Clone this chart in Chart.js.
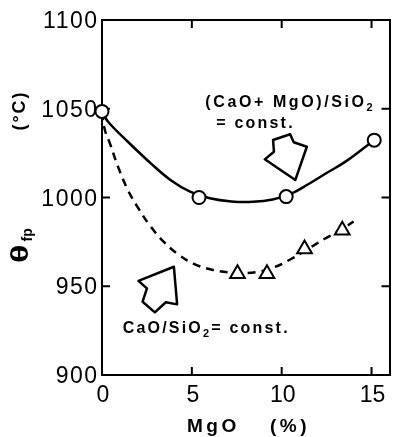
<!DOCTYPE html>
<html>
<head>
<meta charset="utf-8">
<script src="https://cdn.jsdelivr.net/npm/chart.js@4.4.1/dist/chart.umd.min.js"></script>
<style>
  html, body { margin: 0; padding: 0; background: #fff; }
  #wrap { width: 393px; height: 437px; overflow: hidden; }
  #box { width: 400px; height: 437px; position: relative; }
</style>
</head>
<body>
<div id="wrap"><div id="box"><canvas id="chart"></canvas></div></div>
<script>
// measured points: (CaO+MgO)/SiO2 = const. (circles)
const mgoCircle = [0, 5.4, 10.25, 15.15];
const tempCircle = [1048.5, 1000, 1000.5, 1032.3];

// measured points: CaO/SiO2 = const. (triangles)
const mgoTriangle = [7.54, 9.18, 11.27, 13.37];
const tempTriangle = [957, 957, 971, 981.5];

// fitted curves
const solidCurveX = [0, 0.34, 1.44, 2.71, 3.81, 4.9, 6.0, 7.2, 8.4, 9.5, 10.5, 11.5, 12.5, 13.55, 14.74, 15.15];
const solidCurveY = [1048.5, 1042.7, 1031.4, 1019.3, 1009.9, 1003.3, 999.6, 997.8, 997.6, 998.9, 1002, 1007.6, 1013.8, 1020.2, 1029.2, 1032.3];
const dashedCurveX = [0, 0.16, 0.44, 0.89, 1.44, 2.08, 2.71, 3.44, 4.26, 5.08, 6.17, 7.54, 8.6, 9.6, 10.5, 11.4, 12.37, 13.37, 14.0];
const dashedCurveY = [1048, 1038, 1030.5, 1017.4, 1004.2, 993, 983.6, 975, 967.8, 962.8, 959.2, 957.6, 958, 960.8, 965.2, 970.6, 976.6, 982.2, 986.5];

// tick labels
const xTicks = [0, 5, 10, 15];
const yTicks = [900, 950, 1000, 1050, 1100];

const toPts = (xs, ys) => xs.map((v, i) => ({ x: v, y: ys[i] }));

// ---- annotation shapes (hollow arrows), in data units ----
const arrowUpper = [[9.52, 1032.4], [10.47, 1035.6], [10.67, 1031.1], [11.40, 1028.6], [10.76, 1009.9], [9.06, 1021.5], [9.57, 1025.8]];
const arrowLower = [[4.0, 961.0], [2.03, 953.0], [2.50, 948.8], [2.26, 941.3], [2.94, 935.3], [3.55, 941.0], [4.18, 939.8]];

const TICK = 8;
const SANS = '"Liberation Sans", Arial, sans-serif';

const decor = {
  id: 'decor',
  beforeDatasetsDraw(chart) {
    const { ctx, chartArea: a, scales: { x, y } } = chart;
    ctx.save();
    ctx.strokeStyle = '#000';
    ctx.lineWidth = 2;
    ctx.beginPath();
    xTicks.forEach(v => {
      if (v <= 0) return;
      const px = x.getPixelForValue(v);
      ctx.moveTo(px, a.bottom); ctx.lineTo(px, a.bottom - TICK);
      ctx.moveTo(px, a.top); ctx.lineTo(px, a.top + TICK);
    });
    yTicks.forEach(v => {
      if (v <= 900 || v >= 1100) return;
      const py = y.getPixelForValue(v);
      ctx.moveTo(a.left, py); ctx.lineTo(a.left + TICK, py);
      ctx.moveTo(a.right, py); ctx.lineTo(a.right - TICK, py);
    });
    ctx.stroke();
    ctx.restore();
  },
  afterDraw(chart) {
    const { ctx, chartArea: a, scales: { x, y } } = chart;
    ctx.save();
    ctx.fillStyle = '#000';
    ctx.strokeStyle = '#000';

    // tick labels
    ctx.font = '23px ' + SANS;
    ctx.letterSpacing = '1.5px';
    ctx.textAlign = 'right';
    ctx.textBaseline = 'alphabetic';
    yTicks.forEach(v => {
      ctx.fillText(String(v), a.left - 5 + 1.5, y.getPixelForValue(v) + 8);
    });
    ctx.letterSpacing = '0px';
    ctx.textAlign = 'center';
    xTicks.forEach(v => {
      ctx.fillText(String(v), x.getPixelForValue(v) + 1, 402);
    });

    // x title
    ctx.font = 'bold 19px ' + SANS;
    ctx.letterSpacing = '3.5px';
    ctx.textAlign = 'left';
    ctx.fillText('MgO', 187, 432);
    ctx.fillText('(%)', 270, 432);

    // y title, rotated
    ctx.save();
    ctx.translate(19, 111.5);
    ctx.rotate(-Math.PI / 2);
    ctx.font = 'bold 18px ' + SANS;
    ctx.letterSpacing = '2px';
    ctx.textAlign = 'center';
    ctx.fillText('(°C)', 1, 6);
    ctx.restore();

    ctx.save();
    ctx.translate(19, 245.5);
    ctx.rotate(-Math.PI / 2);
    ctx.letterSpacing = '0px';
    ctx.textAlign = 'left';
    ctx.save();
    ctx.translate(-17.5, 8.5);
    ctx.scale(1.55, 1.05);
    ctx.font = 'bold 22px ' + SANS;
    ctx.fillText('θ', 0, 0);
    ctx.restore();
    ctx.font = 'bold 14px ' + SANS;
    ctx.fillText('fp', 4, 13);
    ctx.restore();

    // annotation texts
    const label = (parts, xv, yv) => {
      let px = x.getPixelForValue(xv);
      const py = y.getPixelForValue(yv);
      parts.forEach(([t, sub]) => {
        ctx.font = sub ? 'bold 11px ' + SANS : 'bold 16px ' + SANS;
        ctx.fillText(t, px, py + (sub ? 4 : 0));
        px += ctx.measureText(t).width;
      });
    };
    ctx.textAlign = 'left';
    ctx.letterSpacing = '2.6px';
    label([['(CaO+ MgO)/SiO'], ['2', true]], 5.75, 1051);
    ctx.letterSpacing = '2.2px';
    label([['= const.']], 6.36, 1039.2);
    label([['CaO/SiO'], ['2', true], ['= const.']], 1.15, 923.7);

    // hollow arrows
    ctx.lineWidth = 2.5;
    ctx.lineJoin = 'round';
    [arrowUpper, arrowLower].forEach(poly => {
      ctx.beginPath();
      poly.forEach(([xv, yv], i) => {
        const px = x.getPixelForValue(xv), py = y.getPixelForValue(yv);
        if (i === 0) ctx.moveTo(px, py); else ctx.lineTo(px, py);
      });
      ctx.closePath();
      ctx.stroke();
    });
    ctx.restore();
  }
};

const hiddenTicks = { display: false };
const noGrid = { display: false };
const axisBorder = { display: true, color: '#000', width: 2 };

new Chart(document.getElementById('chart'), {
  type: 'line',
  data: {
    datasets: [
      {
        data: toPts(mgoCircle, tempCircle),
        showLine: false,
        pointStyle: 'circle',
        pointRadius: 6.5,
        pointBorderWidth: 2,
        pointBorderColor: '#000',
        pointBackgroundColor: '#fff',
        clip: false
      },
      {
        data: toPts(mgoTriangle, tempTriangle),
        showLine: false,
        pointStyle: 'triangle',
        pointRadius: 8.5,
        pointBorderWidth: 2,
        pointBorderColor: '#000',
        pointBackgroundColor: '#fff',
        clip: false
      },
      {
        data: toPts(solidCurveX, solidCurveY),
        borderColor: '#000',
        borderWidth: 2.5,
        pointRadius: 0,
        tension: 0.4,
        fill: false,
        clip: false
      },
      {
        data: toPts(dashedCurveX, dashedCurveY),
        borderColor: '#000',
        borderWidth: 2.5,
        borderDash: [8, 6],
        pointRadius: 0,
        tension: 0.4,
        fill: false,
        clip: false
      }
    ]
  },
  options: {
    responsive: true,
    maintainAspectRatio: false,
    animation: false,
    layout: { padding: 0 },
    plugins: { legend: { display: false }, tooltip: { enabled: false } },
    scales: {
      x: {
        type: 'linear', position: 'bottom', min: 0, max: 16,
        ticks: hiddenTicks, grid: noGrid, border: axisBorder,
        afterFit(s) { s.height = 62; }
      },
      x2: {
        type: 'linear', position: 'top', min: 0, max: 16,
        ticks: hiddenTicks, grid: noGrid, border: axisBorder,
        afterFit(s) { s.height = 20; }
      },
      y: {
        type: 'linear', position: 'left', min: 900, max: 1100,
        ticks: hiddenTicks, grid: noGrid, border: axisBorder,
        afterFit(s) { s.width = 102; }
      },
      y2: {
        type: 'linear', position: 'right', min: 900, max: 1100,
        ticks: hiddenTicks, grid: noGrid, border: axisBorder,
        afterFit(s) { s.width = 6; }
      }
    }
  },
  plugins: [decor]
});
</script>
</body>
</html>
